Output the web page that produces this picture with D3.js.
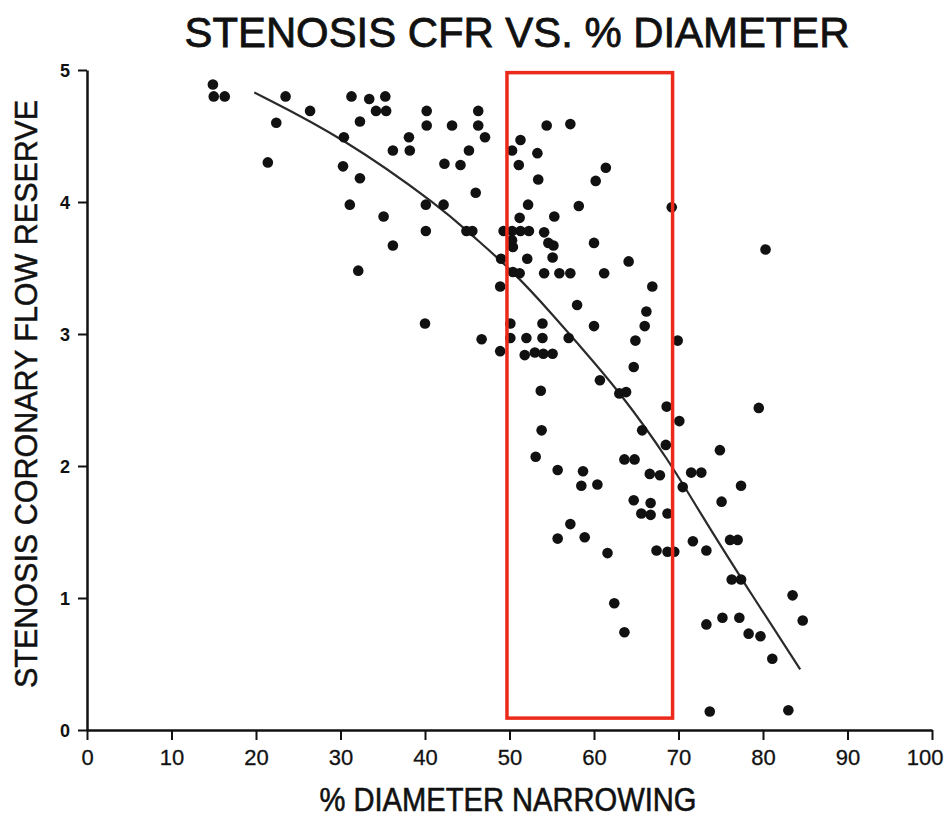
<!DOCTYPE html>
<html>
<head>
<meta charset="utf-8">
<script src="https://cdn.jsdelivr.net/npm/d3@7"></script>
<style>
  body { margin: 0; background: #fff; }
  text { font-family: "Liberation Sans", Arial, sans-serif; fill: #111; }
</style>
</head>
<body>
<svg id="chart" width="950" height="817"></svg>
<script>
// points: % diameter narrowing vs stenosis CFR
var diameterPct = [
  14.9, 15.0, 16.3, 23.5, 26.4, 22.4, 30.4, 21.4, 30.3, 31.1,
  31.3, 33.4, 35.3, 34.2, 35.4, 32.3, 40.2, 40.2, 43.2, 46.3,
  46.3, 47.1, 38.1, 36.2, 38.2, 45.2, 42.3, 44.2, 32.3, 46.0,
  40.1, 42.2, 35.1, 40.1, 44.9, 45.6, 36.2, 32.1, 40.0, 46.7,
  48.9, 48.9, 49.3, 50.3, 51.3, 52.3, 50.3, 50.4, 51.2, 52.2,
  50.3, 51.3, 51.1, 53.3, 53.4, 52.1, 54.4, 57.2, 61.4, 60.2,
  58.2, 69.2, 55.3, 54.1, 54.6, 55.2, 60.0, 49.0, 55.1, 64.1,
  50.4, 51.2, 54.1, 55.9, 57.2, 61.2, 66.9, 58.0, 66.2, 66.0,
  60.0, 50.1, 53.9, 50.1, 52.0, 53.9, 57.0, 64.9, 69.9, 51.8,
  53.0, 54.0, 55.1, 64.7, 60.7, 53.7, 63.0, 63.8, 68.6, 70.1,
  53.8, 65.7, 68.5, 53.1, 63.6, 64.8, 55.7, 58.7, 66.6, 67.8,
  71.5, 72.7, 58.5, 60.4, 70.5, 64.7, 66.7, 65.6, 66.7, 68.7,
  57.2, 55.7, 58.9, 71.7, 61.6, 67.4, 68.7, 69.5, 62.4, 63.6,
  79.5, 74.9, 77.4, 75.1, 76.1, 77.0, 73.3, 76.3, 77.4, 83.5,
  84.7, 73.3, 75.2, 77.2, 78.3, 79.7, 81.1, 73.7, 83.0, 80.3
];
var stenosisCfr = [
  4.89, 4.80, 4.80, 4.80, 4.69, 4.60, 4.49, 4.30, 4.27, 3.98,
  4.80, 4.78, 4.80, 4.69, 4.69, 4.61, 4.69, 4.58, 4.58, 4.69,
  4.58, 4.49, 4.49, 4.39, 4.39, 4.39, 4.29, 4.28, 4.18, 4.07,
  3.98, 3.98, 3.89, 3.78, 3.78, 3.78, 3.67, 3.48, 3.08, 2.96,
  3.36, 2.87, 3.78, 3.78, 3.78, 3.78, 3.71, 3.66, 3.88, 3.98,
  4.39, 4.47, 4.28, 4.37, 4.17, 3.57, 4.58, 4.59, 4.26, 4.16,
  3.97, 3.96, 3.89, 3.77, 3.69, 3.67, 3.69, 3.57, 3.58, 3.55,
  3.47, 3.46, 3.46, 3.46, 3.46, 3.46, 3.36, 3.22, 3.17, 3.06,
  3.06, 3.08, 3.08, 2.97, 2.97, 2.97, 2.97, 2.95, 2.95, 2.84,
  2.86, 2.85, 2.85, 2.75, 2.65, 2.57, 2.55, 2.56, 2.45, 2.34,
  2.27, 2.27, 2.16, 2.07, 2.05, 2.05, 1.97, 1.96, 1.94, 1.93,
  1.95, 1.95, 1.85, 1.86, 1.84, 1.74, 1.72, 1.64, 1.63, 1.64,
  1.56, 1.45, 1.46, 1.43, 1.34, 1.36, 1.35, 1.35, 0.96, 0.74,
  2.44, 2.12, 1.85, 1.73, 1.44, 1.44, 1.36, 1.14, 1.14, 1.02,
  0.83, 0.80, 0.85, 0.85, 0.73, 0.71, 0.54, 0.14, 0.15, 3.64
];

// fitted curve
var fitX = [19.8, 30.3, 42.1, 45.3, 50.4, 55.6, 57.5, 63.1, 69.0, 72.5, 78.1, 84.4];
var fitY = [4.83, 4.49, 3.95, 3.76, 3.48, 3.11, 2.97, 2.56, 2.03, 1.65, 1.08, 0.46];

var xTicks = [0, 10, 20, 30, 40, 50, 60, 70, 80, 90, 100];
var yTicks = [0, 1, 2, 3, 4, 5];

// the red box drawn over the 50-70 % band
var boxX = [49.7, 69.3];
var boxY = [0.09, 4.98];

var svg = d3.select("#chart");

var x = d3.scaleLinear().domain([0, 100]).range([87, 932]);
var y = d3.scaleLinear().domain([0, 5]).range([730, 70]);

// title
svg.append("text")
  .attr("x", 517).attr("y", 47)
  .attr("text-anchor", "middle")
  .attr("font-size", 42)
  .attr("textLength", 665).attr("lengthAdjust", "spacingAndGlyphs")
  .style("stroke", "#111").style("stroke-width", 0.8)
  .text("STENOSIS CFR VS. % DIAMETER");

// axes
var xAxis = svg.append("g")
  .attr("transform", "translate(0," + y(0) + ")")
  .call(d3.axisBottom(x).tickValues(xTicks).tickSize(10).tickSizeOuter(0).tickPadding(9));

var yAxis = svg.append("g")
  .attr("transform", "translate(" + x(0) + ",0)")
  .call(d3.axisLeft(y).tickValues(yTicks).tickFormat(d3.format("d"))
    .tickSize(9).tickSizeOuter(0).tickPadding(8));

[xAxis, yAxis].forEach(function(g) {
  g.select(".domain").attr("stroke", "#111").attr("stroke-width", 2.5);
  g.selectAll(".tick line").attr("stroke", "#111").attr("stroke-width", 2);
  g.selectAll(".tick text")
    .attr("font-family", "Liberation Sans, Arial, sans-serif")
    .attr("fill", "#1a1a1a");
});
xAxis.selectAll(".tick text")
  .attr("font-size", 22)
  .style("stroke", "#1a1a1a").style("stroke-width", 0.3);
// the last label sits against the right edge, keep it inside the page
xAxis.selectAll(".tick text")
  .filter(function(d) { return d === 100; })
  .attr("text-anchor", "end")
  .attr("x", 11);
yAxis.selectAll(".tick text").attr("font-size", 18).attr("font-weight", "bold").attr("dy", "0.35em");

// axis titles
svg.append("text")
  .attr("x", 508).attr("y", 811)
  .attr("text-anchor", "middle")
  .attr("font-size", 33)
  .attr("textLength", 377).attr("lengthAdjust", "spacingAndGlyphs")
  .style("stroke", "#111").style("stroke-width", 0.6)
  .text("% DIAMETER NARROWING");

svg.append("text")
  .attr("transform", "translate(37,394) rotate(-90)")
  .attr("text-anchor", "middle")
  .attr("font-size", 32)
  .attr("textLength", 588).attr("lengthAdjust", "spacingAndGlyphs")
  .style("stroke", "#111").style("stroke-width", 0.5)
  .text("STENOSIS CORONARY FLOW RESERVE");

// fit curve
var fit = fitX.map(function(d, i) { return [d, fitY[i]]; });
svg.append("path")
  .datum(fit)
  .attr("fill", "none")
  .attr("stroke", "#2a2a2a")
  .attr("stroke-width", 2.2)
  .attr("d", d3.line()
    .x(function(d) { return x(d[0]); })
    .y(function(d) { return y(d[1]); })
    .curve(d3.curveBasis));

// dots
var points = diameterPct.map(function(d, i) { return { pct: d, cfr: stenosisCfr[i] }; });
svg.append("g")
  .selectAll("circle")
  .data(points)
  .enter()
  .append("circle")
    .attr("cx", function(d) { return x(d.pct); })
    .attr("cy", function(d) { return y(d.cfr); })
    .attr("r", 5.3)
    .attr("fill", "#111");

// highlight box
svg.append("rect")
  .attr("x", x(boxX[0]))
  .attr("y", y(boxY[1]))
  .attr("width", x(boxX[1]) - x(boxX[0]))
  .attr("height", y(boxY[0]) - y(boxY[1]))
  .attr("fill", "none")
  .attr("stroke", "#ec2a1c")
  .attr("stroke-width", 3.5);
</script>
</body>
</html>
